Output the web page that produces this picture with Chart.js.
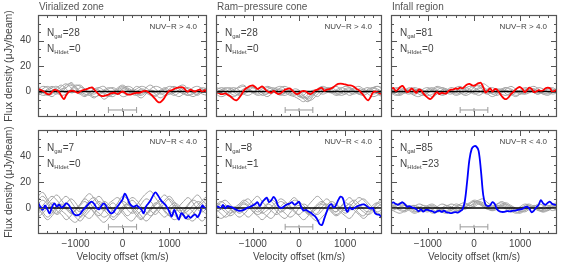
<!DOCTYPE html>
<html>
<head>
<meta charset="utf-8">
<script src="https://cdn.jsdelivr.net/npm/chart.js@4.4.0/dist/chart.umd.min.js"></script>
<style>
html, body { margin: 0; padding: 0; background: #fff; }
#wrap { position: relative; width: 567px; height: 270px; overflow: hidden; }
#wrap canvas { position: absolute; }
</style>
</head>
<body>
<div id="wrap"></div>
<script>
// velocity grids (km/s)
const velFine = [-1800,-1750,-1700,-1650,-1600,-1550,-1500,-1450,-1400,-1350,
  -1300,-1250,-1200,-1150,-1100,-1050,-1000,-950,-900,-850,
  -800,-750,-700,-650,-600,-550,-500,-450,-400,-350,
  -300,-250,-200,-150,-100,-50,0,50,100,150,
  200,250,300,350,400,450,500,550,600,650,
  700,750,800,850,900,950,1000,1050,1100,1150,
  1200,1250,1300,1350,1400,1450,1500,1550,1600,1650,
  1700,1750,1800];
const velCoarse = [-1800,-1700,-1600,-1500,-1400,-1300,-1200,-1100,-1000,-900,
  -800,-700,-600,-500,-400,-300,-200,-100,0,100,
  200,300,400,500,600,700,800,900,1000,1100,
  1200,1300,1400,1500,1600,1700,1800];

const xTickLabels = [-1000, 0, 1000];
const xMinorTicks = [-1600,-1400,-1200,-1000,-800,-600,-400,-200,0,200,400,600,800,1000,1200,1400,1600];
const yTickLabels = [0, 20, 40];
const yMinorTicks = [-13.33,-6.67,0,6.67,13.33,20,26.67,33.33,40,46.67,53.33];

const panelTitles = ['Virialized zone', 'Ram\u2212pressure cone', 'Infall region'];
const colourCuts = ['NUV\u2212R > 4.0', 'NUV\u2212R < 4.0'];
const nGal = [[28, 28, 81], [7, 8, 85]];
const nHIdet = [[0, 0, 0], [0, 1, 23]];

// error bar (velocity width) shown in each panel
const barX = [-300, 0, 300];
const barY = -14.5;

// stacked spectra (red: NUV-R > 4, blue: NUV-R < 4)
const stackVirRed = [1.8,1.2,0.5,-0.8,-2,-2.2,-0.3,1.2,1,-0.5,
  -3.5,-6,-3,-0.5,0.5,0.5,-0.2,-1,0,1,
  1.5,2,2.8,3.2,1.5,-0.5,-2.5,-3.5,-3.6,-3,
  -2.5,-1.5,-1,-1.2,-2,-1,0,-1,-2.2,-2.5,
  -2,-1.5,-1,-1,-0.5,0.3,0.5,-0.5,-2,-4,
  -6,-8,-8.5,-7,-4.5,-1.5,0.5,1,2,2.8,
  3.2,3.5,3,0.8,0,1.5,0.5,0,1,1.5,
  -0.5,1,-0.5];
const stackRamRed = [-0.5,-1,-2,-2,-1.5,-2.5,-3.5,-5,-6.5,-6.8,
  -5,-2.5,0.5,2.5,3.5,4.5,4.8,3.5,2,3,
  4,2.5,0.5,-0.5,-1,0.5,-1,-2,-1.5,0,
  1.5,2,2.5,1,-0.8,-2,-1.5,0,0.5,0,
  -1.5,-2,-0.8,1,1.5,2.5,2.8,0.5,1.5,1.8,
  2.5,3.5,5,6,6.2,6,5.5,5,4.8,4.5,
  3.5,2,1,-1,-3,-5.5,-7,-4.5,-1,0,
  -0.5,-1.5,-2];
const stackInfRed = [2,2.8,0.5,1.5,3.5,4.4,2,-0.5,0.5,2.5,
  0.5,-1,1.5,1,-1.5,-3.5,-5,-6,-4.5,-2,
  -0.5,-2,-1,-1.5,-1.5,0.5,1.5,1.5,2.5,2,
  3,2.5,4,5.5,6,5,4.5,5.5,6.5,6.8,
  3.5,-0.8,0.5,2.5,0,1.8,1.5,-1,-3.5,-5.5,
  -6,-4.5,-2,-0.5,1.5,3,3.5,2,-0.5,1,
  3,2,-0.5,0,1,0.5,1,2.5,3,2.5,
  -0.5,0.5,1.5];
const stackVirBlue = [4.4,1,-1.5,2,-1,-4,1,3.5,1,2.5,
  0.5,1.5,3.5,2.5,-0.5,-4,-5.5,-5.5,-4.5,-2,
  0,2,4,4.8,3,0,-1,1.5,3.5,1.5,
  -2,-4,-3.5,-1,1.5,4,6.5,11,8,3.5,
  1.5,1,2,0.5,-1,-4,1,3.5,6,9.5,
  12,10,7,4.5,3,0.5,-3,-6.5,-1.5,-5,
  -9,-4,-5.5,-8,-6,-7.5,-6,-5,-7,-4,
  2,0,-1];
const stackRamBlue = [1,1,-0.5,2.3,0,1.5,1,0.5,-0.5,-1.5,
  -2.2,-2,-1.5,-0.5,0.5,1,2,3,4.4,1.5,
  4.5,6.5,8,4.5,6,8.5,6,1.5,0,0.5,
  2,2.8,3.5,4.4,2.5,3.5,4.8,0.5,-2,-1.5,
  -2.5,-3.5,-5,-6.5,-9,-12.5,-13,-8,-3,1.5,
  3,0.5,2,6,8.7,7.5,1,-3,0.5,-1,
  0,1,1.8,2.5,2.8,2,0.5,-0.5,0,-4,
  -5,-5.5,-8];
const stackInfBlue = [3.5,4.4,3.2,2.5,3.5,4.4,3,1,1.5,0.5,
  0,-1,-2.5,-1,-2.8,-1.5,-1.5,-2,-2.5,-3.5,
  -2.5,-2,-3,-2,-3.3,-3.5,-4,-3.5,-3.2,-3.5,
  -2.5,-1,5,20,37,45.5,47.5,47.3,44,29,
  10,2.5,1.5,2,4.5,3,-1,-2.5,-3,-3,
  -2.5,-2.5,-2.5,-2,-2,-1.5,-1,-0.8,0.5,1,
  -0.5,-3.3,-2,0.5,2.3,6,3.5,2.5,4,4.8,
  3,2.5,2.5];

// individual spectra (grey)
const greyVirRed = [
  [2,4,3,0,-2,1,5,6,3,-1,-3,-1,2,1,-2,-4,-2,1,3,2,0,-3,-5,-2,2,4,3,0,-2,-1,1,3,2,-1,-3,0,2],
  [-1,-3,-2,1,3,5,2,-1,0,3,2,-2,-4,-3,0,2,3,1,-1,-2,1,4,2,-1,-3,-4,-1,2,4,3,0,-2,-3,-1,1,2,0],
  [3,1,-2,-4,-1,2,3,7,4,0,-2,-3,0,3,4,1,-2,-1,2,4,3,-1,-2,0,1,-2,-5,-3,0,2,3,1,-2,-4,-2,1,3],
  [0,2,4,2,-1,-3,-2,1,4,5,2,-1,-2,0,-1,-3,-4,-1,2,1,-2,-3,-1,3,5,2,-1,-3,-2,1,4,5,2,-1,-2,1,2],
  [-2,0,1,3,4,1,-1,2,5,4,1,-3,-5,-2,1,3,2,-1,-4,-3,0,2,4,3,0,-1,1,3,1,-2,-4,-2,0,3,4,2,-1],
  [1,-1,-3,-2,1,4,6,3,0,-2,1,3,1,-2,-6,-4,-1,2,4,2,-1,0,2,1,-2,-3,0,2,-1,-3,-1,2,3,1,0,-2,-3],
  [-3,-1,2,4,2,0,3,5,2,-2,-4,-1,2,3,1,-1,0,3,5,3,1,-2,-3,-1,1,0,-2,-1,2,4,2,-1,-3,-2,1,3,2]
];
const greyRamRed = [
  [1,3,2,-1,-3,-2,1,3,4,2,-1,-2,0,2,1,-1,-3,-4,-6,-8,-5,-2,1,2,0,-1,1,3,2,-1,-2,0,2,3,1,-2,-4],
  [-2,-4,-3,0,2,3,4,2,-1,-3,-2,1,3,2,-2,-3,-1,2,1,-3,-7,-6,-2,1,3,2,-1,-3,-2,1,3,4,2,0,-2,-1,1],
  [2,0,-2,-1,1,4,5,2,0,-2,0,3,2,-1,-3,-1,1,0,-3,-5,-4,-1,2,4,3,0,-2,-1,2,3,1,-2,-3,-1,2,4,3],
  [0,-2,-1,2,3,1,-2,-3,-1,2,3,1,-1,0,3,4,2,-1,-4,-5,-2,1,0,-2,-1,2,4,2,-1,-3,-1,2,1,-2,-4,-3,-1],
  [-1,1,3,2,-1,-3,-2,0,3,2,-1,-4,-2,1,2,0,-2,-3,-2,-6,-8,-4,0,2,1,-1,0,2,4,3,0,-2,-1,1,3,2,0],
  [3,2,0,-3,-4,-1,2,1,-1,0,2,4,3,0,-2,-1,1,-1,-4,-3,0,-2,-4,-1,2,3,1,-1,-2,0,2,1,-1,0,3,4,2],
  [-2,0,2,3,1,-2,-1,2,3,0,-3,-2,1,3,4,2,-1,-2,-1,-4,-6,-3,1,3,2,-1,-3,-2,1,2,0,-2,-1,2,3,1,-1]
];
const greyInfRed = [
  [2,0,-2,-1,1,3,2,-1,-3,-2,1,3,2,0,-2,-1,2,4,3,1,-1,-2,0,2,1,-2,-3,-1,1,3,2,-1,-2,0,2,3,1],
  [-1,-3,-2,1,3,2,0,-2,-1,2,4,3,1,-1,-3,-2,0,2,5,4,1,-2,-4,-2,1,3,2,0,-2,-1,1,2,0,-2,-1,1,2],
  [0,2,3,1,-1,-3,-4,-2,1,2,0,-1,1,3,2,-1,-2,0,3,5,3,0,-1,1,2,0,-2,-4,-2,1,3,4,2,-1,-2,0,1],
  [3,1,-1,0,2,1,-2,-3,-1,1,3,2,-1,-2,0,2,1,-1,0,2,3,1,-2,-3,-1,2,4,2,-1,-2,1,2,0,-2,-3,-1,2],
  [-2,-1,1,2,0,-2,-1,2,3,1,-1,-3,-2,0,3,4,2,0,-2,-1,1,0,-2,-1,2,3,1,-1,0,2,1,-1,-2,1,3,2,0],
  [1,3,2,-1,-2,0,2,1,-2,-4,-2,1,2,0,-1,1,3,2,-1,-3,-1,2,3,1,-2,-3,-1,1,0,-2,-1,1,3,2,0,-2,-1],
  [0,-2,-3,-1,1,2,1,0,2,3,1,-2,-1,1,2,-1,-3,-2,1,3,6,4,1,-1,0,1,-1,-3,-2,0,2,1,-1,0,2,1,-1]
];
const greyVirBlue = [
  [6,9,5,-1,-5,-2,3,7,4,-2,-6,-8,-4,1,5,3,-2,-5,-1,4,8,6,1,-3,-6,-3,2,6,9,5,0,-4,-2,2,5,3,-1],
  [-4,-1,3,7,10,6,1,-3,-7,-10,-6,-2,2,5,2,-3,-7,-4,1,3,0,-4,-8,-5,0,4,2,-3,-6,-4,1,5,8,4,-1,-3,0],
  [2,-3,-7,-4,2,6,9,5,0,-3,1,6,8,4,-1,-5,-9,-6,-2,2,6,3,-2,-5,-2,3,7,10,6,1,-3,-6,-9,-5,0,4,7],
  [9,12,7,2,-2,-5,-9,-6,-1,3,7,4,-1,-4,-7,-5,-1,4,9,7,2,-2,-6,-10,-7,-2,1,-2,-6,-9,-7,-3,2,6,4,-2,-5],
  [-7,-4,0,4,2,-2,-5,-9,-11,-7,-2,3,6,9,5,1,-2,1,5,3,-1,-6,-9,-5,-1,2,5,3,-2,-5,-8,-4,0,-3,-7,-10,-6],
  [3,6,3,-2,-4,0,4,1,-3,-7,-4,0,-3,-6,-2,3,6,8,4,-1,-4,-2,3,7,5,0,-4,-7,-3,2,0,-5,-8,-10,-6,-1,3],
  [-2,2,6,9,6,2,-1,-4,-2,2,5,1,-4,-8,-11,-8,-3,0,-2,-6,-3,2,7,11,13,8,3,-1,1,4,2,-2,-5,-2,2,6,9],
  [0,-5,-9,-6,-1,3,0,-4,-2,3,8,11,7,2,-2,1,4,0,-4,-8,-10,-6,-2,1,-2,-5,-1,4,7,3,-2,-1,3,7,10,6,2]
];
const greyRamBlue = [
  [3,0,-3,-6,-4,1,4,2,-2,-5,-3,2,6,4,-1,-4,-7,-5,0,3,1,-3,-5,-2,2,5,3,-1,-4,-2,2,5,7,4,0,-3,-1],
  [-5,-8,-6,-2,1,-1,-4,-7,-4,0,4,7,5,1,-3,-1,3,6,4,0,-4,-8,-10,-7,-3,1,3,0,-2,1,5,8,6,2,-2,-5,-3],
  [1,4,6,3,-1,-4,-2,2,6,9,5,1,-2,-5,-3,1,5,8,4,-1,-5,-3,0,3,1,-3,-6,-4,0,4,6,3,-1,-3,0,4,7],
  [-3,-1,2,0,-4,-7,-5,-1,3,1,-3,-6,-8,-4,1,4,2,-2,-6,-9,-6,-1,3,5,2,-2,-5,-3,1,3,0,-4,-6,-2,2,4,1],
  [4,2,-1,-4,-2,2,5,7,3,-1,-4,-2,1,4,7,5,1,-3,-5,-2,2,6,9,6,2,-1,-3,0,4,2,-2,-5,-8,-5,-1,3,5],
  [-1,-4,-7,-5,0,3,6,4,0,-3,-1,3,2,-2,-6,-8,-4,0,2,-1,-4,-2,2,4,7,4,0,-3,-6,-8,-4,0,3,1,-2,-4,-6],
  [2,5,3,-1,-3,0,3,1,-3,-6,-9,-6,-2,2,5,3,-1,1,4,2,-3,-6,-4,1,3,0,-3,1,5,8,4,0,-3,-5,-3,1,3]
];
const greyInfBlue = [
  [2,0,-2,-3,-1,1,3,2,-1,-3,-2,0,2,1,-1,-2,0,3,5,3,1,-1,-2,0,2,3,1,-1,-3,-2,0,2,1,-1,-2,0,2],
  [-1,-3,-4,-2,1,2,0,-2,-3,-1,1,3,2,0,-2,-1,2,4,6,5,2,0,-1,1,3,4,2,0,-2,-3,-1,1,3,2,0,-2,-1],
  [1,3,2,0,-2,-4,-3,-1,1,2,0,-2,-3,-1,1,3,4,2,3,5,4,2,1,3,5,3,1,-1,0,2,3,1,-1,-3,-2,1,3],
  [-2,-1,1,2,0,-2,-3,-2,0,1,-1,-3,-4,-2,0,2,1,0,2,4,3,1,-1,0,2,1,-1,-3,-4,-2,0,1,-1,-2,0,2,1],
  [0,2,4,3,1,-1,0,2,1,-1,-3,-2,1,3,2,0,-1,1,4,6,7,4,2,3,4,2,0,-2,-1,1,2,0,-2,-1,1,3,4],
  [3,1,-1,-2,0,2,1,-1,-2,-4,-3,-1,0,-2,-3,-1,1,2,1,3,2,0,-2,-1,1,0,-2,-4,-3,-1,1,0,-2,-3,-1,1,0],
  [-1,1,3,2,-1,-3,-2,0,2,3,1,-1,-2,0,3,2,0,3,5,4,1,-1,0,2,1,-1,-3,-2,1,3,2,0,-1,1,2,0,-2]
];

const stacks = [[stackVirRed, stackRamRed, stackInfRed], [stackVirBlue, stackRamBlue, stackInfBlue]];
const greys = [[greyVirRed, greyRamRed, greyInfRed], [greyVirBlue, greyRamBlue, greyInfBlue]];
const stackColours = ['#ff0000', '#0000ff'];

const FONT = "'Liberation Sans', Arial, sans-serif";
const TEXT = '#444';

// frame, inward ticks and the panel labels
const panelDecor = {
  id: 'panelDecor',
  afterDraw(chart, args, o) {
    const {ctx, chartArea: a, scales: {x, y}} = chart;
    ctx.save();
    ctx.strokeStyle = '#555';
    ctx.lineWidth = 1;
    ctx.beginPath();
    xMinorTicks.forEach(v => {
      const px = Math.round(x.getPixelForValue(v)) + 0.5;
      const len = xTickLabels.includes(v) ? 6 : 3;
      ctx.moveTo(px, a.bottom); ctx.lineTo(px, a.bottom - len);
      ctx.moveTo(px, a.top); ctx.lineTo(px, a.top + len);
    });
    yMinorTicks.forEach(v => {
      const py = Math.round(y.getPixelForValue(v)) + 0.5;
      const len = yTickLabels.includes(v) ? 6 : 3;
      ctx.moveTo(a.left, py); ctx.lineTo(a.left + len, py);
      ctx.moveTo(a.right, py); ctx.lineTo(a.right - len, py);
    });
    ctx.stroke();
    ctx.lineWidth = 1.2;
    ctx.strokeRect(a.left + 0.5, a.top + 0.5, a.width - 1, a.height - 1);

    if (o.title) {
      ctx.font = '10px ' + FONT;
      ctx.fillStyle = '#555';
      ctx.textBaseline = 'middle';
      ctx.fillText(o.title, a.left + 1, 7);
    }
    ctx.fillStyle = TEXT;
    ctx.textBaseline = 'alphabetic';
    const drawN = (sub, val, base) => {
      let tx = a.left + 9;
      ctx.font = '10px ' + FONT;
      ctx.fillText('N', tx, base);
      tx += ctx.measureText('N').width;
      ctx.font = '6px ' + FONT;
      ctx.fillText(sub, tx, base + 2);
      tx += ctx.measureText(sub).width + 0.5;
      ctx.font = '10px ' + FONT;
      ctx.fillText('=' + val, tx, base);
    };
    drawN('gal', o.ngal, a.top + 21);
    drawN('HIdet', o.nhi, a.top + 37);
    ctx.font = '8px ' + FONT;
    ctx.textAlign = 'right';
    ctx.textBaseline = 'middle';
    ctx.fillText(o.cut, a.right - 10, a.top + 12);
    ctx.restore();
  }
};

const colLeft = [0, 211, 386];
const colWidth = [212, 176, 176];
const rowTop = [0, 122];
const rowHeight = [122, 148];

function fmtTick(v) {
  return v < 0 ? '\u2212' + Math.abs(v) : String(v);
}

// fixed axis sizes, no extra label padding, so every panel lines up
function fixAxis(s, size) {
  if (s.isHorizontal()) s.height = size; else s.width = size;
  s.paddingTop = 0; s.paddingBottom = 0; s.paddingLeft = 0; s.paddingRight = 0;
}

function makePanel(row, col) {
  const canvas = document.createElement('canvas');
  canvas.width = colWidth[col];
  canvas.height = rowHeight[row];
  canvas.style.left = colLeft[col] + 'px';
  canvas.style.top = rowTop[row] + 'px';
  document.getElementById('wrap').appendChild(canvas);

  const showX = row === 1;
  const showY = col === 0;

  const datasets = [];
  datasets.push({
    data: velFine.map((v, i) => ({x: v, y: stacks[row][col][i]})),
    borderColor: stackColours[row], borderWidth: 1.8, pointRadius: 0, tension: 0.35, order: 0
  });
  datasets.push({
    data: [{x: -1800, y: 0}, {x: 1800, y: 0}],
    borderColor: '#000', borderWidth: 1.4, pointRadius: 0, order: 1
  });
  datasets.push({
    data: barX.map(v => ({x: v, y: barY})),
    borderColor: '#999', borderWidth: 1, pointStyle: 'line', pointRotation: 90,
    pointRadius: [3, 2, 3], pointBorderColor: '#999', pointBorderWidth: 1, order: 2
  });
  greys[row][col].forEach(g => {
    datasets.push({
      data: velCoarse.map((v, i) => ({x: v, y: g[i]})),
      borderColor: '#a2a2a2', borderWidth: 1, pointRadius: 0, tension: 0.4, order: 3
    });
  });

  return new Chart(canvas.getContext('2d'), {
    type: 'line',
    data: {datasets},
    plugins: [panelDecor],
    options: {
      responsive: false,
      animation: false,
      events: [],
      layout: {padding: {left: showY ? 0 : 2, right: 2, top: row === 0 ? 15 : 8, bottom: row === 0 ? 3 : 0}},
      plugins: {
        legend: {display: false},
        tooltip: {enabled: false},
        panelDecor: {
          title: row === 0 ? panelTitles[col] : null,
          ngal: nGal[row][col],
          nhi: nHIdet[row][col],
          cut: colourCuts[row]
        }
      },
      scales: {
        x: {
          type: 'linear', min: -1800, max: 1800,
          display: showX,
          grid: {display: false, drawTicks: false},
          border: {display: false},
          afterBuildTicks: s => { s.ticks = xTickLabels.map(v => ({value: v})); },
          afterFit: s => fixAxis(s, showX ? 36 : 0),
          ticks: {display: showX, padding: 4, color: TEXT, font: {family: FONT, size: 10}, maxRotation: 0, autoSkip: false, callback: fmtTick},
          title: {display: showX, text: 'Velocity offset (km/s)', color: TEXT, font: {family: FONT, size: 10}, padding: {top: 0, bottom: 7}}
        },
        y: {
          type: 'linear', min: -20, max: 60,
          display: showY,
          grid: {display: false, drawTicks: false},
          border: {display: false},
          afterBuildTicks: s => { s.ticks = yTickLabels.map(v => ({value: v})); },
          afterFit: s => fixAxis(s, showY ? 38 : 0),
          ticks: {display: showY, padding: 7, color: TEXT, font: {family: FONT, size: 10}, callback: fmtTick},
          title: {display: showY, text: 'Flux density (\u03bcJy/beam)', color: TEXT, font: {family: FONT, size: 10.5}, padding: {top: 3, bottom: 0}}
        }
      }
    }
  });
}

for (let r = 0; r < 2; r++) {
  for (let c = 0; c < 3; c++) makePanel(r, c);
}
</script>
</body>
</html>
